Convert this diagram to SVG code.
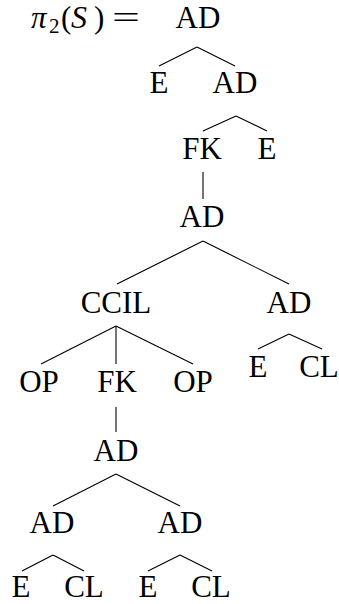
<svg xmlns="http://www.w3.org/2000/svg" width="339" height="604" viewBox="0 0 339 604">
  <style>
    .n { text-anchor: middle; }
    .edges line { stroke: #000; stroke-width: 1.1; }
  </style>
  <rect width="339" height="604" fill="#fff"/>

  <g font-family="Liberation Serif" font-size="31" fill="#000">
    <!-- left-hand side of the equation -->
    <g id="label">
      <text font-style="italic" x="31" y="28">π</text>
      <text font-size="21" x="49" y="33">2</text>
      <text x="61" y="28">(</text>
      <text font-style="italic" font-size="32" x="71" y="28">S</text>
      <text x="94" y="28">)</text>
      <text transform="translate(112,28) scale(1.6,1)">=</text>
    </g>

    <!-- tree nodes -->
    <g id="n-root"><text class="n" x="198" y="28">AD</text></g>
    <g id="n-e1"><text class="n" x="159" y="93">E</text></g>
    <g id="n-ad1"><text class="n" x="235" y="93">AD</text></g>
    <g id="n-fk1"><text class="n" x="202" y="159">FK</text></g>
    <g id="n-e2"><text class="n" x="267" y="159">E</text></g>
    <g id="n-ad2"><text class="n" x="202" y="227">AD</text></g>
    <g id="n-ccil"><text class="n" x="116" y="313">CCIL</text></g>
    <g id="n-ad3"><text class="n" x="289" y="313">AD</text></g>
    <g id="n-e3"><text class="n" x="258" y="377">E</text></g>
    <g id="n-cl1"><text class="n" x="319" y="377">CL</text></g>
    <g id="n-op1"><text class="n" x="39" y="392">OP</text></g>
    <g id="n-fk2"><text class="n" x="117" y="392">FK</text></g>
    <g id="n-op2"><text class="n" x="193" y="392">OP</text></g>
    <g id="n-ad4"><text class="n" x="116" y="461">AD</text></g>
    <g id="n-ad5"><text class="n" x="52" y="533">AD</text></g>
    <g id="n-ad6"><text class="n" x="180" y="533">AD</text></g>
    <g id="n-e4"><text class="n" x="21" y="597">E</text></g>
    <g id="n-cl2"><text class="n" x="84" y="597">CL</text></g>
    <g id="n-e5"><text class="n" x="148" y="597">E</text></g>
    <g id="n-cl3"><text class="n" x="211" y="597">CL</text></g>
  </g>

  <!-- tree edges -->
  <g class="edges">
    <line x1="197" y1="47" x2="159" y2="66"/>
    <line x1="197" y1="47" x2="235" y2="66"/>
    <line x1="236" y1="116" x2="203" y2="131"/>
    <line x1="236" y1="116" x2="267" y2="131"/>
    <line x1="203" y1="172" x2="203" y2="199"/>
    <line x1="203" y1="241" x2="117" y2="284"/>
    <line x1="203" y1="241" x2="289" y2="284"/>
    <line x1="116" y1="326" x2="41" y2="364"/>
    <line x1="116" y1="326" x2="116" y2="364"/>
    <line x1="116" y1="326" x2="193" y2="364"/>
    <line x1="289" y1="334" x2="258" y2="349"/>
    <line x1="289" y1="334" x2="322" y2="349"/>
    <line x1="116" y1="407" x2="116" y2="432"/>
    <line x1="116" y1="474" x2="53" y2="506"/>
    <line x1="116" y1="474" x2="180" y2="506"/>
    <line x1="53" y1="555" x2="22" y2="571"/>
    <line x1="53" y1="555" x2="84" y2="571"/>
    <line x1="180" y1="555" x2="148" y2="571"/>
    <line x1="180" y1="555" x2="212" y2="571"/>
  </g>
</svg>
